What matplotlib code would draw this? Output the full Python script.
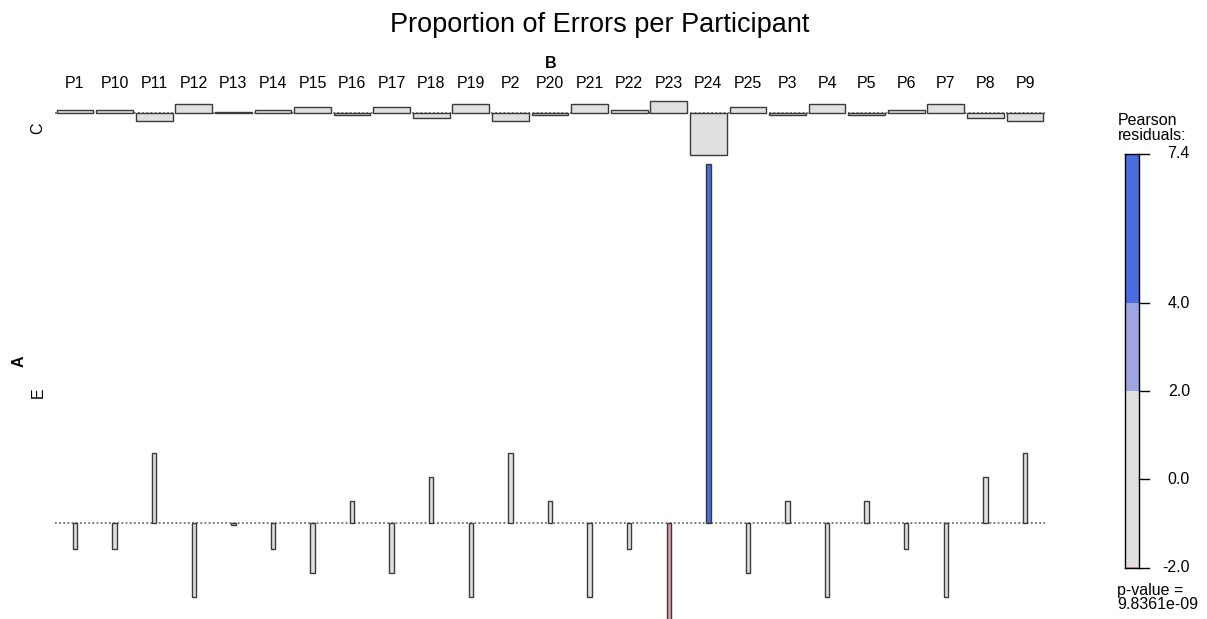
import numpy as np
import matplotlib
matplotlib.use("Agg")
import matplotlib.pyplot as plt
from matplotlib.patches import Rectangle

plt.rcParams['font.family'] = ['Liberation Sans', 'DejaVu Sans']

# ---------------- data ----------------
participants = ['P1', 'P10', 'P11', 'P12', 'P13', 'P14', 'P15', 'P16', 'P17', 'P18',
                'P19', 'P2', 'P20', 'P21', 'P22', 'P23', 'P24', 'P25', 'P3', 'P4',
                'P5', 'P6', 'P7', 'P8', 'P9']
errors = [3, 3, 7, 1, 4, 3, 2, 5, 2, 6, 1, 7, 5, 1, 3, 0, 19, 2, 5, 1, 5, 3, 1, 6, 7]
correct = [297, 297, 293, 299, 296, 297, 298, 295, 298, 294, 299, 293, 295, 299, 297,
           300, 281, 298, 295, 299, 295, 297, 299, 294, 293]
row_labels = ['C', 'E']
title = 'Proportion of Errors per Participant'
p_value_lines = ['p-value =', '9.8361e-09']
legend_title_lines = ['Pearson', 'residuals:']

# ---------------- residuals ----------------
obs = np.array([correct, errors], dtype=float)
N = obs.sum()
expected = np.outer(obs.sum(axis=1), obs.sum(axis=0)) / N
resid = (obs - expected) / np.sqrt(expected)
rmin, rmax = resid.min(), resid.max()

# ---------------- figure / layout (pixels) ----------------
W, H = 1207, 619
fig = plt.figure(figsize=(W / 100, H / 100), dpi=100)


def box(x0, ytop, w, h):
    return [x0 / W, 1 - (ytop + h) / H, w / W, h / H]


px_per_unit = 48.56
plot_left, plot_right = 55.2, 1044.8
top_first_row = 101.2
row_gap = 9.2

gray = '#E0E0E0'
lblue = '#9DA5E2'
blue = '#4A6EE1'
pink = '#E896A4'
red = '#D8506A'
edge = '#3A3A3A'


def fill_for(r):
    if r > 4:
        return blue
    if r > 2:
        return lblue
    if r < -4:
        return red
    if r < -2:
        return pink
    return gray


ncol = len(participants)
xs = np.arange(ncol)
ytop = top_first_row
for i, lab in enumerate(row_labels):
    lo = min(resid[i].min(), 0)
    hi = max(resid[i].max(), 0)
    h = (hi - lo) * px_per_unit
    ax = fig.add_axes(box(plot_left, ytop, plot_right - plot_left, h))
    ax.set_xlim(-0.5, ncol - 0.5)
    ax.set_ylim(lo, hi)
    ax.axis('off')
    ax.axhline(0, color='#6E6E6E', lw=1.3, ls=(0, (1, 1.3)), zorder=0)
    widths = 0.927 * np.sqrt(expected[i]) / np.sqrt(expected.max(axis=0))
    widths = np.maximum(widths, 0.11)
    ax.bar(xs, resid[i], width=widths, bottom=0,
           color=[fill_for(r) for r in resid[i]], edgecolor=edge,
           linewidth=1.0, zorder=2, clip_on=False)
    # row label
    ymid = ytop + h / 2
    fig.text(38 / W, 1 - ymid / H, lab, rotation=90, ha='center', va='center',
             fontsize=11.5)
    if i == 0:
        # column labels
        for x, p in zip(xs, participants):
            fig.text((plot_left + (x + 0.5) * (plot_right - plot_left) / ncol) / W,
                     1 - 83 / H, p, ha='center', va='center', fontsize=11.5)
    ytop += h + row_gap

# axis variable names
fig.text(551 / W, 1 - 64 / H, 'B', ha='center', va='center', fontsize=11.5,
         fontweight='bold')
fig.text(19 / W, 1 - 361 / H, 'A', ha='center', va='center', fontsize=11.5,
         fontweight='bold', rotation=90)

# title
fig.text(600 / W, 1 - 25 / H, title, ha='center', va='center', fontsize=19.5)

# ---------------- legend ----------------
leg_px = 44.0
leg_h = (rmax - rmin) * leg_px
lax = fig.add_axes(box(1125, 154, 13.5, leg_h))
lax.set_xlim(0, 1)
lax.set_ylim(rmin, rmax)
lax.set_xticks([])
lax.set_yticks([])
for s in lax.spines.values():
    s.set_linewidth(1.0)
    s.set_color('black')
segments = [(rmin, -4, red), (-4, -2, pink), (-2, 2, gray), (2, 4, lblue), (4, rmax, blue)]
for a, b, c in segments:
    a2, b2 = max(a, rmin), min(b, rmax)
    if b2 > a2:
        lax.add_patch(Rectangle((0, a2), 1, b2 - a2, facecolor=c, edgecolor='none'))
ticks = [rmin, 0, 2, 4, rmax]
tr = lax.get_yaxis_transform()
for t in ticks:
    lax.plot([1, 1 + 10 / 13.5], [t, t], transform=tr, color='black', lw=1.0,
             clip_on=False)
    lax.text((1190 - 1125) / 13.5, t, f'{t:.1f}', transform=tr, ha='right',
             va='center', fontsize=11.5)

# legend title and p-value (baselines placed explicitly, ~15 px apart)
for k, line in enumerate(legend_title_lines):
    fig.text(1118 / W, 1 - (125 + 15 * k) / H, line, ha='left', va='baseline',
             fontsize=11.5)
for k, line in enumerate(p_value_lines):
    fig.text(1117 / W, 1 - (595 + 14 * k) / H, line, ha='left', va='baseline',
             fontsize=11.5)

fig.savefig('out.png', dpi=100)
